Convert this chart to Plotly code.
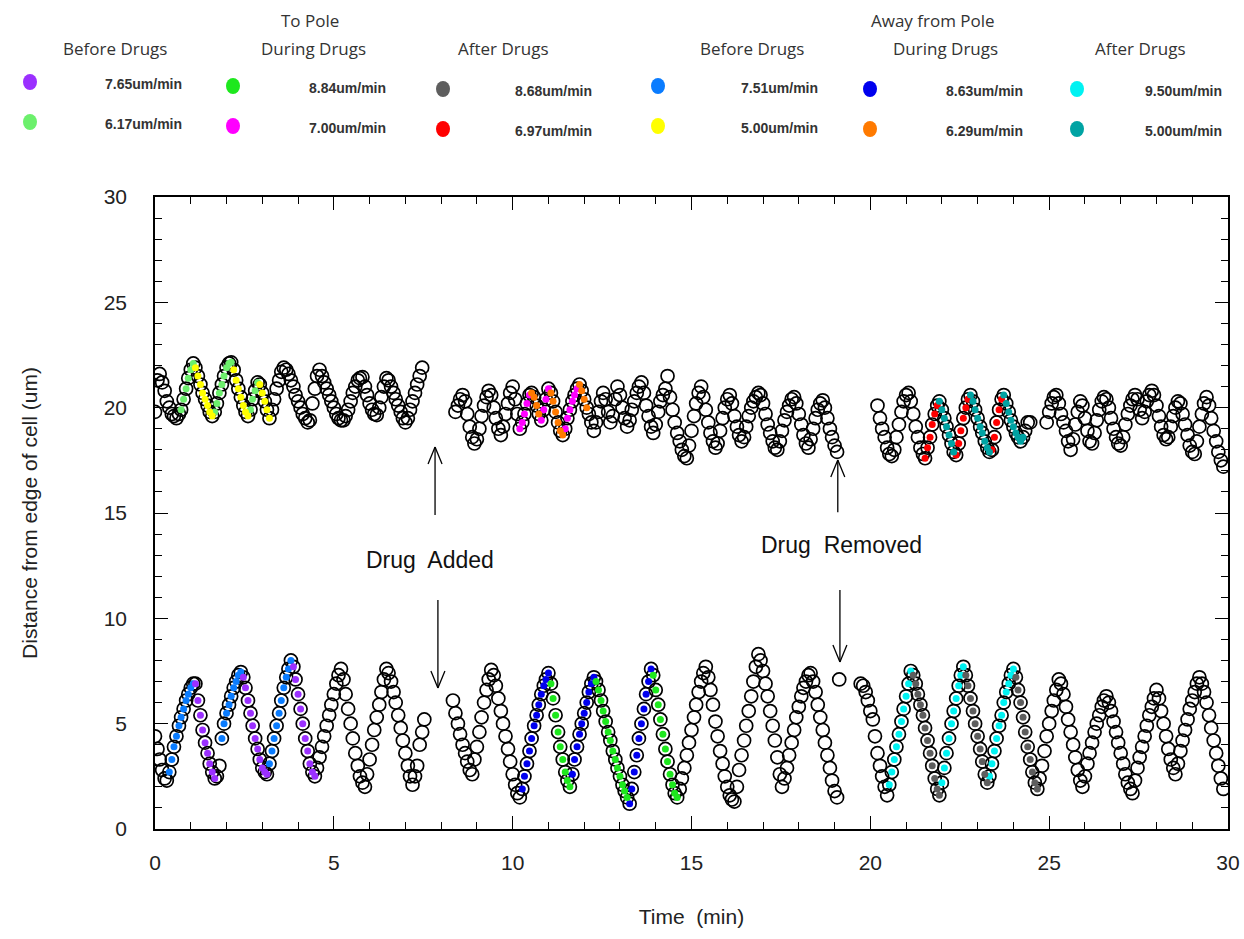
import plotly.graph_objects as go

# ---------------- data (time in min, distance in um) ----------------
time_a = [0.00,0.07,0.13,0.20,0.27,0.33,0.40,0.47,0.53,0.60,0.67,0.73,0.80,0.87,0.93,
          1.00,1.07,1.13,1.20,1.27,1.33,1.40,1.47,1.53,1.60,1.67,1.73,1.80,1.87,1.93,
          2.00,2.07,2.13,2.20,2.27,2.33,2.40,2.47,2.53,2.60,2.67,2.73,2.80,2.87,2.93,
          3.00,3.07,3.13,3.20,3.27,3.33,3.40,3.47,3.53,3.60,3.67,3.73,3.80,3.87,3.93,
          4.00,4.07,4.13,4.20,4.27,4.33,4.40,4.47,4.53,4.60,4.67,4.73,4.80,4.87,4.93,
          5.00,5.07,5.13,5.20,5.27,5.33,5.40,5.47,5.53,5.60,5.67,5.73,5.80,5.87,5.93,
          6.00,6.07,6.13,6.20,6.27,6.33,6.40,6.47,6.53,6.60,6.67,6.73,6.80,6.87,6.93,
          7.00,7.07,7.13,7.20,7.27,7.33,7.40,7.47,7.53]
lower_a = [4.4,3.8,3.3,2.8,2.4,2.3,2.7,3.3,3.9,4.4,4.9,5.3,5.7,6.1,6.4,
           6.7,6.9,6.9,6.1,5.4,4.7,4.1,3.6,3.1,2.7,2.4,2.5,3.0,4.3,5.0,
           5.5,5.9,6.3,6.7,7.0,7.3,7.45,7.2,6.7,6.1,5.5,4.9,4.3,3.8,3.3,
           2.9,2.7,2.6,3.1,3.7,4.3,4.9,5.5,6.1,6.7,7.2,7.6,8.0,7.7,7.1,
           6.4,5.7,5.0,4.3,3.7,3.1,2.7,2.5,2.9,3.4,3.9,4.4,4.9,5.4,5.9,
           6.4,6.9,7.3,7.6,7.1,6.4,5.7,5.0,4.3,3.6,3.0,2.5,2.2,2.0,2.6,
           3.3,4.0,4.7,5.3,5.9,6.5,7.1,7.6,7.4,7.0,6.5,6.0,5.4,4.8,4.2,
           3.6,3.0,2.5,2.1,2.5,3.0,4.0,4.6,5.2]
upper_a = [19.8,21.3,21.6,21.2,20.8,20.3,20.0,19.7,19.6,19.5,19.7,19.9,20.4,20.9,21.4,
           21.8,22.1,21.9,21.5,21.1,20.7,20.4,20.1,19.8,19.6,19.8,20.2,20.7,21.1,21.5,
           21.9,22.1,22.15,21.8,21.3,20.9,20.5,20.1,19.8,19.6,19.9,20.4,20.8,21.2,21.1,
           20.7,20.3,19.9,19.5,19.9,20.4,20.9,21.3,21.7,21.9,21.8,21.6,21.3,21.0,20.6,
           20.3,20.0,19.7,19.5,19.3,19.4,20.2,20.9,21.5,21.8,21.5,21.2,20.9,20.6,20.3,
           20.0,19.7,19.5,19.4,19.4,19.6,19.9,20.3,20.7,21.0,21.3,21.4,21.45,21.0,20.6,
           20.2,19.9,19.7,19.65,20.0,20.5,21.0,21.4,21.3,21.0,20.7,20.4,20.1,19.8,19.5,
           19.3,19.5,19.9,20.3,20.7,21.1,21.5,21.9,None]

time_b = [8.33,8.40,8.47,8.53,8.60,8.67,8.73,8.80,8.87,8.93,
          9.00,9.07,9.13,9.20,9.27,9.33,9.40,9.47,9.53,9.60,9.67,9.73,9.80,9.87,9.93,
          10.00,10.07,10.13,10.20,10.27,10.33,10.40,10.47,10.53,10.60,10.67,10.73,10.80,10.87,10.93,
          11.00,11.07,11.13,11.20,11.27,11.33,11.40,11.47,11.53,11.60,11.67,11.73,11.80,11.87,11.93,
          12.00,12.07,12.13,12.20,12.27,12.33,12.40,12.47,12.53,12.60,12.67,12.73,12.80,12.87,12.93,
          13.00,13.07,13.13,13.20,13.27,13.33,13.40,13.47,13.53,13.60,13.67,13.73,13.80,13.87,13.93,
          14.00,14.07,14.13,14.20,14.27,14.33,14.40,14.47,14.53,14.60,14.67,14.73,14.80,14.87,14.93,
          15.00,15.07,15.13,15.20,15.27,15.33,15.40,15.47,15.53,15.60,15.67,15.73,15.80,15.87,15.93,
          16.00,16.07,16.13,16.20,16.27,16.33,16.40,16.47,16.53,16.60,16.67,16.73,16.80,16.87,16.93,
          17.00,17.07,17.13,17.20,17.27,17.33,17.40,17.47,17.53,17.60,17.67,17.73,17.80,17.87,17.93,
          18.00,18.07,18.13,18.20,18.27,18.33,18.40,18.47,18.53,18.60,18.67,18.73,18.80,18.87,18.93,
          19.00,19.07,19.13]
lower_b = [6.1,5.5,5.0,4.5,4.0,3.6,3.2,2.8,2.6,3.3,
           3.9,4.6,5.3,6.0,6.6,7.1,7.55,7.3,6.8,6.2,5.6,5.0,4.4,3.8,3.2,
           2.6,2.1,1.7,1.5,1.9,2.5,3.1,3.7,4.3,4.9,5.4,5.9,6.4,6.8,7.1,
           7.4,6.9,6.2,5.4,4.6,3.9,3.3,2.7,2.3,2.0,2.6,3.3,3.9,4.5,5.0,
           5.5,6.0,6.5,6.9,7.2,7.0,6.6,6.1,5.6,5.1,4.6,4.2,3.7,3.3,2.9,
           2.5,2.1,1.8,1.5,1.2,1.9,2.7,3.5,4.3,5.0,5.7,6.4,7.0,7.6,7.3,
           6.6,5.9,5.2,4.5,3.8,3.2,2.6,2.1,1.7,1.5,1.9,2.4,2.9,3.5,4.1,
           4.7,5.3,5.9,6.5,7.0,7.4,7.7,7.2,6.6,5.9,5.1,4.4,3.7,3.1,2.5,
           2.0,1.6,1.4,1.3,2.0,2.8,3.5,4.2,4.9,5.6,6.3,7.0,7.7,8.3,8.0,
           7.5,6.9,6.3,5.6,4.9,4.2,3.4,2.6,2.0,2.4,2.9,3.5,4.1,4.7,5.3,
           5.8,6.3,6.7,7.0,7.3,7.4,7.0,6.5,5.9,5.3,4.7,4.1,3.5,2.9,2.3,
           1.8,1.5,7.1]
upper_b = [None,19.8,20.1,20.4,20.6,20.3,19.7,19.1,18.6,18.3,
           18.5,19.0,19.6,20.1,20.5,20.8,20.6,20.0,19.5,19.0,18.7,19.1,19.7,20.2,20.7,
           21.0,20.4,19.7,19.0,19.3,19.7,20.2,20.6,20.7,20.5,20.1,19.7,19.4,19.9,20.4,
           20.9,20.7,20.3,19.8,19.3,18.9,18.7,19.0,19.5,19.9,20.3,20.6,20.9,21.1,20.8,
           20.4,20.0,19.7,19.3,18.9,19.3,19.8,20.3,20.7,20.4,19.8,19.3,19.6,20.4,21.0,
           20.6,20.0,19.5,19.1,19.4,19.9,20.3,20.7,21.0,21.2,20.7,20.1,19.6,19.1,18.8,
           19.2,19.8,20.3,20.6,20.9,21.5,20.5,19.9,19.3,18.8,18.4,18.0,17.7,17.6,18.2,
           18.9,19.6,20.2,20.7,21.0,20.5,19.9,19.3,18.8,18.4,18.1,18.3,18.9,19.5,20.0,
           20.4,20.6,20.2,19.6,19.1,18.7,18.4,18.6,19.1,19.6,20.0,20.3,20.5,20.7,20.6,
           20.2,19.7,19.2,18.8,18.4,18.1,18.0,18.4,18.9,19.4,19.8,20.1,20.4,20.5,20.2,
           19.7,19.2,18.7,18.3,18.1,18.5,19.0,19.5,19.9,20.2,20.35,20.0,19.5,19.0,18.6,
           18.2,17.9,None]

time_c = [19.73,19.80,19.87,19.93,
          20.00,20.07,20.13,20.20,20.27,20.33,20.40,20.47,20.53,20.60,20.67,20.73,20.80,20.87,20.93,
          21.00,21.07,21.13,21.20,21.27,21.33,21.40,21.47,21.53,21.60,21.67,21.73,21.80,21.87,21.93,
          22.00,22.07,22.13,22.20,22.27,22.33,22.40,22.47,22.53,22.60,22.67,22.73,22.80,22.87,22.93,
          23.00,23.07,23.13,23.20,23.27,23.33,23.40,23.47,23.53,23.60,23.67,23.73,23.80,23.87,23.93,
          24.00,24.07,24.13,24.20,24.27,24.33,24.40,24.47,24.53,24.60,24.67,24.73,24.80,24.87,24.93,
          25.00,25.07,25.13,25.20,25.27,25.33,25.40,25.47,25.53,25.60,25.67,25.73,25.80,25.87,25.93,
          26.00,26.07,26.13,26.20,26.27,26.33,26.40,26.47,26.53,26.60,26.67,26.73,26.80,26.87,26.93,
          27.00,27.07,27.13,27.20,27.27,27.33,27.40,27.47,27.53,27.60,27.67,27.73,27.80,27.87,27.93,
          28.00,28.07,28.13,28.20,28.27,28.33,28.40,28.47,28.53,28.60,28.67,28.73,28.80,28.87,28.93,
          29.00,29.07,29.13,29.20,29.27,29.33,29.40,29.47,29.53,29.60,29.67,29.73,29.80,29.87]
lower_c = [6.9,6.8,6.5,6.1,
           5.6,5.2,4.4,3.6,3.0,2.5,2.0,1.6,2.1,2.7,3.3,3.9,4.5,5.1,5.7,
           6.3,6.9,7.5,7.3,6.9,6.4,5.9,5.4,4.8,4.2,3.6,3.0,2.4,1.9,1.6,
           2.2,2.9,3.6,4.3,5.0,5.6,6.2,6.8,7.3,7.7,7.3,6.8,6.2,5.6,5.0,
           4.4,3.8,3.2,2.6,2.2,2.5,3.1,3.7,4.3,4.9,5.4,6.0,6.5,6.9,7.3,
           7.6,7.2,6.6,6.0,5.3,4.6,3.9,3.3,2.7,2.2,1.9,2.4,3.0,3.7,4.4,
           5.0,5.6,6.1,6.6,7.1,6.9,6.4,5.8,5.2,4.6,4.0,3.4,2.8,2.3,2.0,
           2.5,3.1,3.6,4.1,4.6,5.0,5.4,5.8,6.1,6.3,6.0,5.6,5.1,4.6,4.1,
           3.6,3.1,2.6,2.2,1.9,1.7,2.3,2.9,3.4,3.9,4.4,4.9,5.4,5.8,6.2,
           6.6,6.2,5.6,5.0,4.4,3.8,3.3,2.9,2.6,3.1,3.7,4.2,4.7,5.2,5.7,
           6.1,6.5,6.9,7.2,6.9,6.5,6.0,5.4,4.8,4.2,3.6,3.0,2.4,1.9]
upper_c = [None,None,None,None,
           None,None,None,20.1,19.5,19.0,18.6,18.1,17.8,17.7,18.0,18.6,19.2,19.8,20.3,
           20.6,20.7,20.3,19.7,19.1,18.6,18.1,17.8,17.6,18.1,18.6,19.2,19.7,20.1,20.3,
           19.9,19.5,19.1,18.7,18.3,17.9,17.75,18.3,18.9,19.5,20.0,20.4,20.6,20.3,19.9,
           19.5,19.1,18.8,18.4,18.1,17.9,18.0,18.6,19.3,19.9,20.4,20.6,20.2,19.8,19.4,
           19.1,18.8,18.6,18.4,18.6,18.9,19.3,19.3,None,None,None,None,None,None,19.3,
           19.8,20.2,20.5,20.6,20.2,19.7,19.3,18.9,18.4,18.0,18.5,19.2,19.8,20.3,20.1,
           19.5,18.9,18.4,18.3,18.8,19.4,19.9,20.3,20.5,20.4,20.0,19.5,19.0,18.6,18.3,
           18.2,18.6,19.2,19.7,20.1,20.4,20.6,20.4,19.9,19.5,19.8,20.3,20.6,20.8,20.6,
           20.1,19.6,19.1,18.7,18.5,18.6,19.1,19.6,20.0,20.3,20.2,19.7,19.2,18.7,18.2,
           17.9,17.8,18.4,19.1,19.7,20.2,20.5,20.1,19.5,18.9,18.4,17.9,17.5,17.2]

# time windows (min) of the colour-coded runs
lower_to_pole_before = [(1.12, 1.70), (2.45, 3.15), (3.85, 4.50)]
lower_away_before = [(0.35, 1.10), (1.85, 2.42), (3.18, 3.82)]
lower_to_pole_during = [(11.05, 11.62), (12.32, 13.25), (13.92, 14.62)]
lower_away_during = [(10.25, 11.02), (11.65, 12.30), (13.26, 13.90)]
lower_to_pole_after = [(21.18, 21.95), (22.65, 23.30), (24.05, 24.70)]
lower_away_after = [(20.50, 21.15), (21.98, 22.62), (23.32, 24.02)]
upper_to_pole_before = [(0.70, 1.10), (1.65, 2.15), (2.65, 2.90)]
upper_away_before = [(1.12, 1.62), (2.18, 2.63), (2.92, 3.22)]
upper_to_pole_during = [(10.18, 10.50), (10.78, 11.02), (11.45, 11.82)]
upper_away_during = [(10.52, 10.76), (11.05, 11.42), (11.85, 12.10)]
upper_to_pole_after = [(21.52, 21.90), (22.39, 22.75), (23.38, 23.70)]
upper_away_after = [(21.92, 22.38), (22.78, 23.35), (23.72, 24.28)]

phases = ["Before Drugs", "During Drugs", "After Drugs"]
to_pole_rates = [["7.65", "6.17"], ["8.84", "7.00"], ["8.68", "6.97"]]
away_rates = [["7.51", "5.00"], ["8.63", "6.29"], ["9.50", "5.00"]]

for t, a, b in [(time_a, lower_a, upper_a), (time_b, lower_b, upper_b), (time_c, lower_c, upper_c)]:
    assert len(t) == len(a) == len(b), (len(t), len(a), len(b))

lower_t = time_a + time_b + time_c
lower_y = lower_a + lower_b + lower_c
upper_t = time_a + time_b + time_c
upper_y = upper_a + upper_b + upper_c

# ---------------- styles ----------------
C_PURPLE, C_LGREEN = "#9B30FF", "#6CF06C"
C_GREEN, C_MAGENTA = "#1EE81E", "#FF00FF"
C_GRAY, C_RED = "#5E5E5E", "#FF0000"
C_BLUE, C_YELLOW = "#0A7CFF", "#FFFF00"
C_DBLUE, C_ORANGE = "#0000EE", "#FF7A00"
C_CYAN, C_TEAL = "#00F2F2", "#00A3A3"

FONT = "Liberation Sans, Arial, sans-serif"
LEG_FONT = "Open Sans, Lato, sans-serif"

fig = go.Figure()

for t, y in [(lower_t, lower_y), (upper_t, upper_y)]:
    fig.add_trace(go.Scatter(
        x=t, y=y, mode="markers", showlegend=False, hoverinfo="skip",
        marker=dict(symbol="circle-open", size=13, color="black", line=dict(width=1.7))))

def pick(ts, ys, windows):
    xs, vs = [], []
    for t, v in zip(ts, ys):
        if v is None:
            continue
        if any(lo <= t <= hi for lo, hi in windows):
            xs.append(t)
            vs.append(v)
    return xs, vs

overlays = [
    (lower_t, lower_y, lower_away_before, C_BLUE),
    (lower_t, lower_y, lower_to_pole_before, C_PURPLE),
    (lower_t, lower_y, lower_away_during, C_DBLUE),
    (lower_t, lower_y, lower_to_pole_during, C_GREEN),
    (lower_t, lower_y, lower_away_after, C_CYAN),
    (lower_t, lower_y, lower_to_pole_after, C_GRAY),
    (upper_t, upper_y, upper_to_pole_before, C_LGREEN),
    (upper_t, upper_y, upper_away_before, C_YELLOW),
    (upper_t, upper_y, upper_to_pole_during, C_MAGENTA),
    (upper_t, upper_y, upper_away_during, C_ORANGE),
    (upper_t, upper_y, upper_to_pole_after, C_RED),
    (upper_t, upper_y, upper_away_after, C_TEAL),
]
for ts, ys, win, col in overlays:
    xs, vs = pick(ts, ys, win)
    fig.add_trace(go.Scatter(
        x=xs, y=vs, mode="markers", showlegend=False, hoverinfo="skip",
        marker=dict(symbol="circle", size=7, color=col, line=dict(width=0))))

# ---------------- layout ----------------
L, R, T, B = 155, 1228, 197, 829
def px2x(px):
    return (px - L) / (R - L)
def py2y(py):
    return (B - py) / (B - T)

axis_common = dict(
    range=[0, 30], dtick=5, showline=True, linecolor="black", linewidth=1.5,
    mirror="ticks", ticks="inside", ticklen=13, tickwidth=1.4, tickcolor="black",
    minor=dict(dtick=1, ticks="inside", ticklen=7, tickwidth=1.2, tickcolor="black"),
    showgrid=False, zeroline=False, automargin=False,
    tickfont=dict(family=FONT, size=21, color="#222"),
)

fig.update_layout(
    width=1244, height=939,
    margin=dict(l=L, r=1244 - R, t=T, b=939 - B),
    paper_bgcolor="white", plot_bgcolor="white",
    xaxis=dict(**axis_common, ticklabelstandoff=14,
               title=dict(text="Time\u00a0 (min)", font=dict(family=FONT, size=21, color="#222"), standoff=36)),
    yaxis=dict(**axis_common, ticklabelstandoff=22,
               title=dict(text="Distance from edge of cell (um)", font=dict(family=FONT, size=21, color="#222"), standoff=60)),
    showlegend=False,
)

# Drug added / removed labels and arrows
fig.add_annotation(x=7.69, y=12.77, xref="x", yref="y", text="Drug\u00a0 Added", showarrow=False,
                   font=dict(family=FONT, size=23, color="#111"))
fig.add_annotation(x=19.2, y=13.48, xref="x", yref="y", text="Drug\u00a0 Removed", showarrow=False,
                   font=dict(family=FONT, size=23, color="#111"))

arrows = [  # (x, y_tail, y_head)
    (7.83, 14.9, 18.13),
    (7.91, 10.87, 6.69),
    (19.09, 15.04, 17.51),
    (19.15, 11.34, 7.93),
]
for ax_, y0, y1 in arrows:
    fig.add_shape(type="line", x0=ax_, x1=ax_, y0=y0, y1=y1, xref="x", yref="y",
                  line=dict(color="black", width=1.3))
    d = -1 if y1 > y0 else 1
    for sx in (-7, 7):
        fig.add_shape(type="line", xref="x", yref="y", xsizemode="pixel", ysizemode="pixel",
                      xanchor=ax_, yanchor=y1, x0=0, y0=0, x1=sx, y1=d * 17,
                      line=dict(color="black", width=1.3))

# custom legend at the top
def header(text, cx, cy, size=17):
    fig.add_annotation(x=px2x(cx), y=py2y(cy), xref="paper", yref="paper", text=text,
                       showarrow=False, xanchor="center", yanchor="middle",
                       font=dict(family=LEG_FONT, size=size, color="#333"))

header("To Pole", 310, 20)
header("Away from Pole", 933, 20)

legend_groups = [
    (to_pole_rates, [[C_PURPLE, C_LGREEN], [C_GREEN, C_MAGENTA], [C_GRAY, C_RED]],
     [115, 313, 503], [30, 233, 443], [143, 347, 553], [82, 86, 89]),
    (away_rates, [[C_BLUE, C_YELLOW], [C_DBLUE, C_ORANGE], [C_CYAN, C_TEAL]],
     [752, 945, 1140], [658, 870, 1077], [779, 984, 1183], [86, 89, 89]),
]
for rates, cols, hx, mx, tx, ry in legend_groups:
    for j in range(3):
        header(phases[j], hx[j], 48)
        for r in range(2):
            cy = ry[j] + 40 * r
            fig.add_shape(type="circle", xref="paper", yref="paper", xsizemode="pixel", ysizemode="pixel",
                          xanchor=px2x(mx[j]), yanchor=py2y(cy), x0=-7, x1=7, y0=-8, y1=8,
                          fillcolor=cols[j][r], line=dict(width=0))
            fig.add_annotation(x=px2x(tx[j]), y=py2y(cy + 2), xref="paper", yref="paper",
                               text=rates[j][r] + "um/min", showarrow=False,
                               xanchor="center", yanchor="middle",
                               font=dict(family=FONT, size=14, color="#333", weight="bold"))

fig.write_html("out.html")
